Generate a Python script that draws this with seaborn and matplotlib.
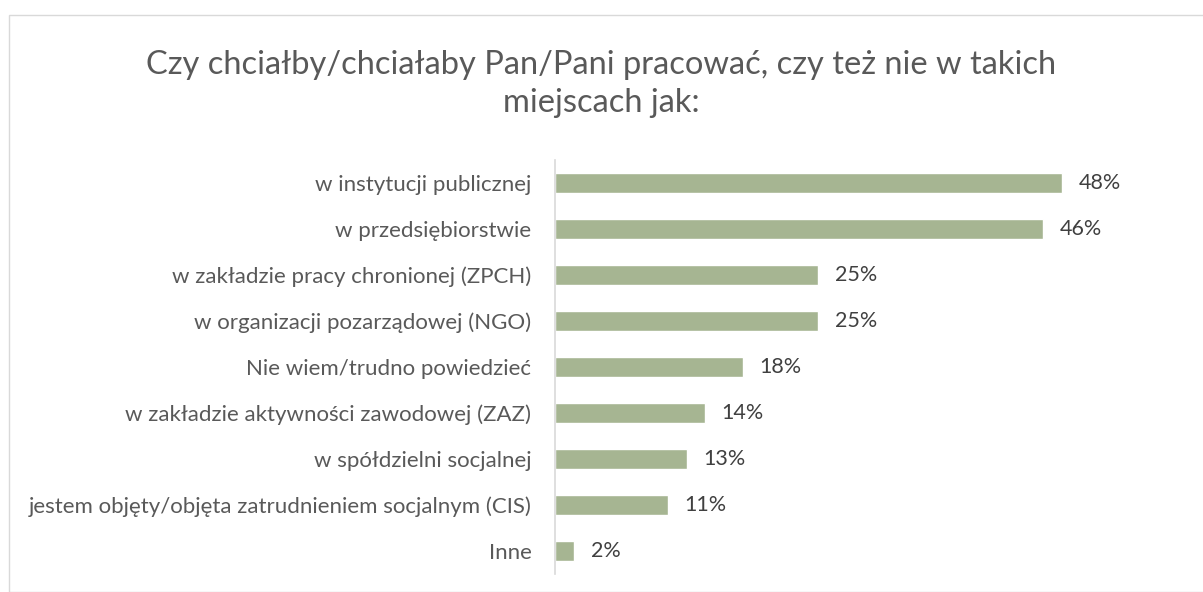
import matplotlib
matplotlib.use("Agg")
import matplotlib.pyplot as plt
import seaborn as sns
import pandas as pd
from matplotlib.patches import Rectangle

categories = [
    "w instytucji publicznej",
    "w przedsiębiorstwie",
    "w zakładzie pracy chronionej (ZPCH)",
    "w organizacji pozarządowej (NGO)",
    "Nie wiem/trudno powiedzieć",
    "w zakładzie aktywności zawodowej (ZAZ)",
    "w spółdzielni socjalnej",
    "jestem objęty/objęta zatrudnieniem socjalnym (CIS)",
    "Inne",
]
values = [48.0, 46.2, 24.9, 24.9, 17.8, 14.2, 12.5, 10.7, 1.8]
value_labels = ["48%", "46%", "25%", "25%", "18%", "14%", "13%", "11%", "2%"]
title = "Czy chciałby/chciałaby Pan/Pani pracować, czy też nie w takich\nmiejscach jak:"

sns.set_theme(style="white")
plt.rcParams["font.family"] = ["Lato", "DejaVu Sans"]

df = pd.DataFrame({"cat": categories, "val": values})

fig = plt.figure(figsize=(12.03, 5.92), dpi=100)
fig.patches.append(Rectangle((9 / 1203, 0), 1.2, 1 - 15 / 592, transform=fig.transFigure,
                             fill=False, edgecolor="#d9d9d9", linewidth=1.0))
ax = fig.add_axes([555 / 1203, 0.030, 0.5004, 0.700])
sns.barplot(data=df, x="val", y="cat", color="#a6b592", saturation=1, width=0.43, ax=ax)

ax.set_xlim(0, 57)
ax.set_ylim(8.5, -0.5)
ax.set_xlabel("")
ax.set_ylabel("")
ax.set_xticks([])
for s in ["top", "right", "bottom"]:
    ax.spines[s].set_visible(False)
ax.spines["left"].set_color("#d9d9d9")
ax.spines["left"].set_linewidth(1.2)
ax.tick_params(axis="y", length=0, pad=17, labelsize=16, labelcolor="#595959")

for p, lab in zip(ax.patches, value_labels):
    ax.annotate(lab, (p.get_width(), p.get_y() + p.get_height() / 2),
                xytext=(12, 0), textcoords="offset points", va="center", ha="left",
                fontsize=15.5, color="#404040")

fig.text(0.5, 1 - 84 / 592, title, ha="center", va="center", fontsize=23.5,
         color="#595959", linespacing=1.32)

fig.savefig("out.png", dpi=100)
